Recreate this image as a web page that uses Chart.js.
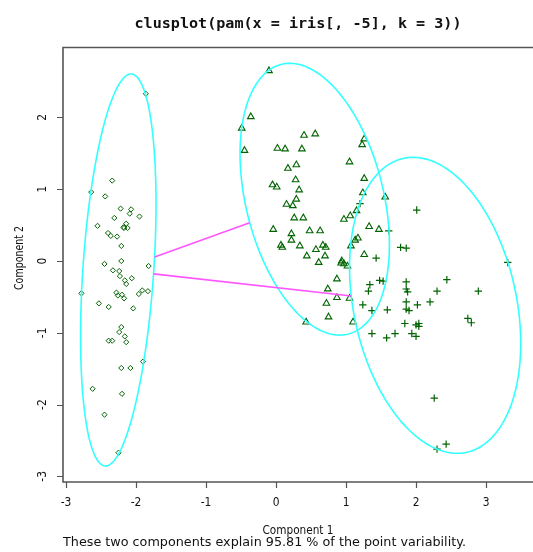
<!DOCTYPE html>
<html>
<head>
<meta charset="utf-8">
<script src="https://cdn.jsdelivr.net/npm/chart.js@4.4.0/dist/chart.umd.min.js"></script>
<style>
  html, body { margin: 0; padding: 0; background: #fff; overflow: hidden; }
  #wrap { width: 533px; height: 552px; }
  canvas { display: block; }
</style>
</head>
<body>
<div id="wrap"><canvas id="myChart" width="533" height="552"></canvas></div>
<script>
// cluster 1 (diamonds)
var c1x = [-1.86,-2.34,-2.64,-2.44,-2.22,-2.07,-2.09,-2.31,-1.95,-2.55,-2.18,-2.14,-2.12,-2.17,-2.40,-2.36,-2.27,
           -2.21,-2.45,-2.21,-1.82,-2.33,-2.24,-2.23,-2.16,-2.14,-2.06,-2.78,-2.28,-2.26,-2.20,-2.17,-1.96,-1.91,
           -1.83,-2.53,-2.39,-2.04,-2.21,-2.24,-2.16,-2.39,-2.34,-2.14,-1.90,-2.21,-2.08,-2.62,-2.20,-2.45,-2.25]
var c1y = [2.33,1.12,0.96,0.90,0.73,0.72,0.66,0.60,0.62,0.49,0.47,0.52,0.46,0.46,0.39,0.35,0.34,
           0.21,-0.04,0.00,-0.07,-0.13,-0.14,-0.21,-0.27,-0.32,-0.24,-0.45,-0.44,-0.48,-0.47,-0.52,-0.46,-0.41,
           -0.42,-0.59,-0.64,-0.66,-0.92,-0.99,-1.05,-1.11,-1.11,-1.13,-1.40,-1.49,-1.49,-1.78,-1.85,-2.14,-2.67]

// cluster 2 (triangles)
var c2x = [-0.10,-0.36,-0.49,-0.45,0.40,0.56,0.02,0.13,0.37,1.26,1.23,1.05,0.17,0.29,0.28,1.26,-0.05,0.01,0.33,1.24,
           1.56,0.29,0.15,0.24,1.15,1.06,0.97,0.26,0.39,-0.04,0.48,0.63,0.22,0.22,0.07,0.09,0.34,0.67,0.71,0.57,
           0.44,0.70,0.61,1.33,1.47,1.17,1.13,1.07,1.26,0.94,0.93,0.97,1.02,0.87,0.74,0.87,1.05,0.72,0.75,0.43,1.10]
var c2y = [2.65,2.01,1.85,1.54,1.75,1.77,1.57,1.56,1.56,1.70,1.62,1.38,1.29,1.34,1.13,1.15,1.06,1.03,0.99,0.95,
           0.89,0.86,0.79,0.77,0.70,0.63,0.58,0.60,0.60,0.44,0.42,0.42,0.38,0.29,0.22,0.19,0.21,0.22,0.19,0.16,
           0.07,0.07,-0.02,0.48,0.44,0.32,0.29,0.21,0.09,0.00,-0.03,-0.04,-0.07,-0.25,-0.39,-0.51,-0.52,-0.59,-0.78,-0.85,-0.85]

// cluster 3 (plus signs)
var c3x = [1.20,1.61,2.01,1.78,1.86,1.43,3.31,1.86,1.86,1.88,2.30,2.44,2.89,1.34,1.32,1.48,1.53,1.24,1.37,1.59,
           1.86,1.86,1.90,2.02,2.20,1.84,2.04,2.04,2.00,2.74,2.79,1.37,1.58,1.70,1.94,2.00,2.26,2.43,2.30]
var c3y = [0.80,0.42,0.71,0.19,0.18,0.04,-0.02,-0.29,-0.39,-0.43,-0.42,-0.26,-0.42,-0.33,-0.42,-0.27,-0.28,-0.61,-0.69,-0.68,
           -0.57,-0.67,-0.69,-0.61,-0.57,-0.87,-0.87,-0.91,-0.89,-0.80,-0.86,-1.01,-1.07,-1.01,-1.01,-1.05,-1.91,-2.55,-2.62]

// spanning ellipses: centre, half axes, angle of the long axis (degrees)
var ellX = [-2.253, 0.553, 2.273]
var ellY = [-0.125, 0.861, -0.617]
var ellA = [2.736, 1.938, 2.096]
var ellB = [0.506, 0.982, 1.162]
var ellAng = [86.05, 104.45, 102.6]
// ellipses joined by a line
var links = [[0, 1], [0, 2]]

var xTicks = [-3, -2, -1, 0, 1, 2, 3]
var yTicks = [-3, -2, -1, 0, 1, 2]

var title = "clusplot(pam(x = iris[, -5], k = 3))"
var subTitle = "These two components explain 95.81 % of the point variability."
var xTitle = "Component 1"
var yTitle = "Component 2"

function toPts(xs, ys) {
    return xs.map(function (x, i) { return { x: x, y: ys[i] } })
}

// point where the ray from ellipse i's centre along (dx, dy) leaves the ellipse
function edgePoint(i, dx, dy) {
    var t = ellAng[i] * Math.PI / 180
    var u = dx * Math.cos(t) + dy * Math.sin(t)
    var v = -dx * Math.sin(t) + dy * Math.cos(t)
    var k = 1 / Math.sqrt(Math.pow(u / ellA[i], 2) + Math.pow(v / ellB[i], 2))
    return { x: ellX[i] + k * dx, y: ellY[i] + k * dy }
}

function drawText(ctx, txt, x, y, font, width, rot, align) {
    ctx.save()
    ctx.font = font
    var sx = width ? width / ctx.measureText(txt).width : 0.82
    ctx.translate(x, y)
    if (rot) ctx.rotate(rot)
    ctx.scale(sx, 1)
    ctx.textAlign = align || 'center'
    ctx.textBaseline = 'middle'
    ctx.fillStyle = '#111'
    ctx.fillText(txt, 0, 0)
    ctx.restore()
}

var rPlot = {
    id: 'rPlot',
    afterDatasetsDraw: function (chart) {
        var ctx = chart.ctx, xs = chart.scales.x, ys = chart.scales.y
        ctx.save()
        ctx.strokeStyle = '#33ffff'
        ctx.lineWidth = 1.6
        for (var i = 0; i < ellX.length; i++) {
            var t = ellAng[i] * Math.PI / 180
            ctx.beginPath()
            for (var s = 0; s <= 360; s += 2) {
                var a = s * Math.PI / 180
                var lx = ellA[i] * Math.cos(a), ly = ellB[i] * Math.sin(a)
                var vx = ellX[i] + lx * Math.cos(t) - ly * Math.sin(t)
                var vy = ellY[i] + lx * Math.sin(t) + ly * Math.cos(t)
                var px = xs.getPixelForValue(vx), py = ys.getPixelForValue(vy)
                if (s === 0) ctx.moveTo(px, py)
                else ctx.lineTo(px, py)
            }
            ctx.closePath()
            ctx.stroke()
        }
        ctx.strokeStyle = '#ff55ff'
        ctx.lineWidth = 1.6
        links.forEach(function (l) {
            var p = l[0], q = l[1]
            var dx = ellX[q] - ellX[p], dy = ellY[q] - ellY[p]
            var s1 = edgePoint(p, dx, dy), s2 = edgePoint(q, -dx, -dy)
            ctx.beginPath()
            ctx.moveTo(xs.getPixelForValue(s1.x), ys.getPixelForValue(s1.y))
            ctx.lineTo(xs.getPixelForValue(s2.x), ys.getPixelForValue(s2.y))
            ctx.stroke()
        })
        ctx.restore()
    },
    afterDraw: function (chart) {
        var ctx = chart.ctx, xs = chart.scales.x, ys = chart.scales.y
        var area = chart.chartArea
        ctx.save()
        // box (right side lies outside the picture)
        ctx.strokeStyle = '#555'
        ctx.lineWidth = 1.6
        ctx.beginPath()
        ctx.moveTo(area.right + 3, area.top)
        ctx.lineTo(area.left, area.top)
        ctx.lineTo(area.left, area.bottom)
        ctx.lineTo(area.right + 3, area.bottom)
        ctx.stroke()
        // ticks
        ctx.lineWidth = 1.2
        ctx.beginPath()
        xTicks.forEach(function (v) {
            var px = Math.round(xs.getPixelForValue(v)) + 0.5
            ctx.moveTo(px, area.bottom)
            ctx.lineTo(px, area.bottom + 6)
        })
        yTicks.forEach(function (v) {
            var py = Math.round(ys.getPixelForValue(v)) + 0.5
            ctx.moveTo(area.left - 6, py)
            ctx.lineTo(area.left, py)
        })
        ctx.stroke()
        ctx.restore()

        var tickFont = '13px "DejaVu Sans"'
        xTicks.forEach(function (v) {
            drawText(ctx, String(v), xs.getPixelForValue(v), area.bottom + 20.5, tickFont, 0, 0)
        })
        yTicks.forEach(function (v) {
            drawText(ctx, String(v), area.left - 20.5, ys.getPixelForValue(v), tickFont, 0, -Math.PI / 2)
        })

        var mid = (area.left + area.right) / 2
        drawText(ctx, title, mid, 24, 'bold 14px "DejaVu Sans Mono"', 327, 0)
        drawText(ctx, xTitle, mid, area.bottom + 48.5, '13px "DejaVu Sans"', 71, 0)
        drawText(ctx, subTitle, area.left, area.bottom + 60.5, '13px "DejaVu Sans"', 403, 0, 'left')
        drawText(ctx, yTitle, 20, 258, '13px "DejaVu Sans"', 64, -Math.PI / 2)
    }
}

var myChart = document.getElementById("myChart").getContext('2d')
var chart = new Chart(myChart, {
    type: 'scatter',
    data: {
        datasets: [
            {
                label: 'cluster 1',
                data: toPts(c1x, c1y),
                pointStyle: 'rectRot',
                radius: 2.6,
                borderColor: '#006400',
                backgroundColor: 'rgba(0,0,0,0)',
                borderWidth: 1
            },
            {
                label: 'cluster 2',
                data: toPts(c2x, c2y),
                pointStyle: 'triangle',
                radius: 3.8,
                borderColor: '#006400',
                backgroundColor: 'rgba(0,0,0,0)',
                borderWidth: 1.1
            },
            {
                label: 'cluster 3',
                data: toPts(c3x, c3y),
                pointStyle: 'cross',
                radius: 3.7,
                borderColor: '#006400',
                backgroundColor: 'rgba(0,0,0,0)',
                borderWidth: 1.2
            }
        ]
    },
    options: {
        responsive: false,
        animation: false,
        events: [],
        devicePixelRatio: 1,
        layout: { autoPadding: false, padding: { left: 63, right: 0, top: 47.5, bottom: 70 } },
        plugins: { legend: { display: false }, tooltip: { enabled: false } },
        scales: {
            x: { type: 'linear', min: -3.043, max: 3.671, display: false },
            y: { type: 'linear', min: -3.078, max: 2.974, display: false }
        }
    },
    plugins: [rPlot]
})
</script>
</body>
</html>
